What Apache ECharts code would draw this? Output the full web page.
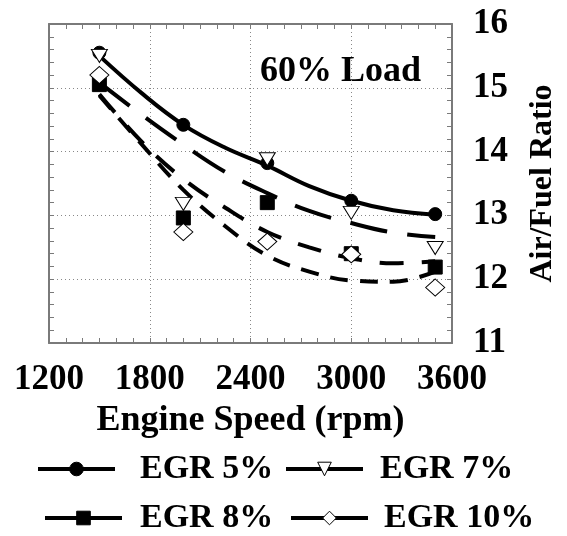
<!DOCTYPE html>
<html>
<head>
<meta charset="utf-8">
<script src="https://cdn.jsdelivr.net/npm/echarts@6/dist/echarts.min.js"></script>
<style>
  html, body { margin: 0; padding: 0; background: #fff; }
  #chart { width: 567px; height: 536px; }
</style>
</head>
<body>
<div id="chart"></div>
<script>
// Measured engine speeds (rpm)
const pointRpm = [1500, 2000, 2500, 3000, 3500];
// Measured air/fuel ratio at each EGR rate
const egr5 = [15.55, 14.42, 13.82, 13.23, 13.02];
const egr7 = [15.50, 13.18, 13.88, 13.04, 12.49];
const egr8 = [15.05, 12.96, 13.20, 12.40, 12.19];
const egr10 = [15.20, 12.74, 12.59, 12.39, 11.87];

// Fitted trend curves
const curveRpm = [1500, 1750, 2000, 2250, 2500, 2750, 3000, 3250, 3500];
const fit5 = [15.50, 14.92, 14.42, 14.06, 13.78, 13.46, 13.23, 13.08, 13.01];
const fit7 = [15.08, 14.58, 14.11, 13.68, 13.35, 13.07, 12.88, 12.73, 12.66];
const fit8 = [14.90, 14.16, 13.57, 13.12, 12.74, 12.50, 12.33, 12.25, 12.28];
const fit10 = [14.88, 14.12, 13.40, 12.83, 12.37, 12.12, 11.98, 11.96, 12.12];

const xTicks = [1200, 1800, 2400, 3000, 3600];
const yTicks = [11, 12, 13, 14, 15, 16];
const names = ['EGR 5%', 'EGR 7%', 'EGR 8%', 'EGR 10%'];

const FONT = 'Liberation Serif, Times New Roman, serif';
const AXIS_GRAY = '#7a7a7a';

function pairs(xs, ys) { return xs.map((x, i) => [x, ys[i]]); }

const markers = [
  { symbol: 'circle', size: 13, rotate: 0, fill: '#000' },
  { symbol: 'triangle', size: [16, 13], rotate: 180, fill: '#fff' },
  { symbol: 'rect', size: 14, rotate: 0, fill: '#000' },
  { symbol: 'diamond', size: [19, 17], rotate: 0, fill: '#fff' }
];
const dashes = ['solid', [38, 20], [24, 18], [18, 12]];
const fits = [fit5, fit7, fit8, fit10];
const points = [egr5, egr7, egr8, egr10];

const series = [];
fits.forEach((f, i) => {
  series.push({
    name: names[i],
    type: 'line',
    data: pairs(curveRpm, f),
    smooth: 0.4,
    showSymbol: false,
    symbol: markers[i].symbol,
    symbolRotate: markers[i].rotate,
    itemStyle: { color: markers[i].fill, borderColor: '#000', borderWidth: 1 },
    lineStyle: { color: '#000', width: 4, type: dashes[i], cap: 'butt' },
    xAxisIndex: 0, yAxisIndex: 0,
    silent: true, animation: false, z: 2
  });
});
points.forEach((p, i) => {
  series.push({
    name: names[i],
    type: 'scatter',
    data: pairs(pointRpm, p),
    symbol: markers[i].symbol,
    symbolSize: markers[i].size,
    symbolRotate: markers[i].rotate,
    itemStyle: { color: markers[i].fill, borderColor: '#000', borderWidth: 1, opacity: 1 },
    xAxisIndex: 0, yAxisIndex: 0,
    silent: true, animation: false, z: 3
  });
});

const legendPos = [
  { left: 36, top: 452 },
  { left: 284, top: 452 },
  { left: 43, top: 501 },
  { left: 289, top: 501 }
];
const legendGap = [20, 12, 13, 11];
const legends = names.map((n, i) => ({
  data: [n],
  left: legendPos[i].left,
  top: legendPos[i].top,
  padding: 0,
  itemWidth: 77,
  itemHeight: 17,
  selectedMode: false,
  lineStyle: { type: 'solid', width: 4, color: '#000' },
  itemStyle: { borderWidth: 1, borderColor: '#000' },
  textStyle: {
    fontFamily: FONT, fontWeight: 'bold', fontSize: 34, color: '#000',
    padding: [0, 0, 0, legendGap[i]]
  }
}));

const axisFont = { fontFamily: FONT, fontWeight: 'bold', fontSize: 35, color: '#000' };

const option = {
  animation: false,
  backgroundColor: '#fff',
  grid: { left: 49, right: 107, top: 24, bottom: 193, containLabel: false },
  legend: legends,
  xAxis: [
    {
      type: 'value', position: 'bottom', min: xTicks[0], max: xTicks[xTicks.length - 1], interval: 600,
      name: 'Engine Speed (rpm)', nameLocation: 'middle', nameGap: 60,
      nameTextStyle: Object.assign({}, axisFont, { fontSize: 36 }),
      axisLine: { show: true, onZero: false, lineStyle: { color: AXIS_GRAY, width: 2 } },
      axisTick: { show: true, inside: true, length: 5, lineStyle: { color: AXIS_GRAY, width: 1 } },
      minorTick: { show: true, splitNumber: 6, length: 5, lineStyle: { color: AXIS_GRAY, width: 1 } },
      axisLabel: Object.assign({ margin: 19, formatter: v => String(v) }, axisFont),
      splitLine: { show: true, lineStyle: { color: '#888', width: 1, type: [1, 3] } }
    },
    {
      type: 'value', position: 'top', min: xTicks[0], max: xTicks[xTicks.length - 1], interval: 600,
      axisLine: { show: true, onZero: false, lineStyle: { color: AXIS_GRAY, width: 2 } },
      axisTick: { show: true, inside: true, length: 5, lineStyle: { color: AXIS_GRAY, width: 1 } },
      minorTick: { show: true, splitNumber: 6, length: 5, lineStyle: { color: AXIS_GRAY, width: 1 } },
      axisLabel: { show: false },
      splitLine: { show: false }
    }
  ],
  yAxis: [
    {
      type: 'value', position: 'right', min: yTicks[0], max: yTicks[yTicks.length - 1], interval: 1,
      name: 'Air/Fuel Ratio', nameLocation: 'middle', nameGap: 75, nameRotate: 90,
      nameTextStyle: Object.assign({}, axisFont, { fontSize: 32 }),
      axisLine: { show: true, onZero: false, lineStyle: { color: AXIS_GRAY, width: 2 } },
      axisTick: { show: true, inside: true, length: 5, lineStyle: { color: AXIS_GRAY, width: 1 } },
      minorTick: { show: true, splitNumber: 5, length: 5, lineStyle: { color: AXIS_GRAY, width: 1 } },
      axisLabel: Object.assign({ margin: 21 }, axisFont),
      splitLine: { show: true, lineStyle: { color: '#888', width: 1, type: [1, 3] } }
    },
    {
      type: 'value', position: 'left', min: yTicks[0], max: yTicks[yTicks.length - 1], interval: 1,
      axisLine: { show: true, onZero: false, lineStyle: { color: AXIS_GRAY, width: 2 } },
      axisTick: { show: true, inside: true, length: 5, lineStyle: { color: AXIS_GRAY, width: 1 } },
      minorTick: { show: true, splitNumber: 5, length: 5, lineStyle: { color: AXIS_GRAY, width: 1 } },
      axisLabel: { show: false },
      splitLine: { show: false }
    }
  ],
  graphic: [
    {
      type: 'text', left: 260, top: 54, silent: true,
      style: { text: '60% Load', fill: '#000', font: 'bold 36px ' + FONT }
    }
  ],
  series: series
};

const chart = echarts.init(document.getElementById('chart'), null, { renderer: 'canvas' });
chart.setOption(option);
</script>
</body>
</html>
